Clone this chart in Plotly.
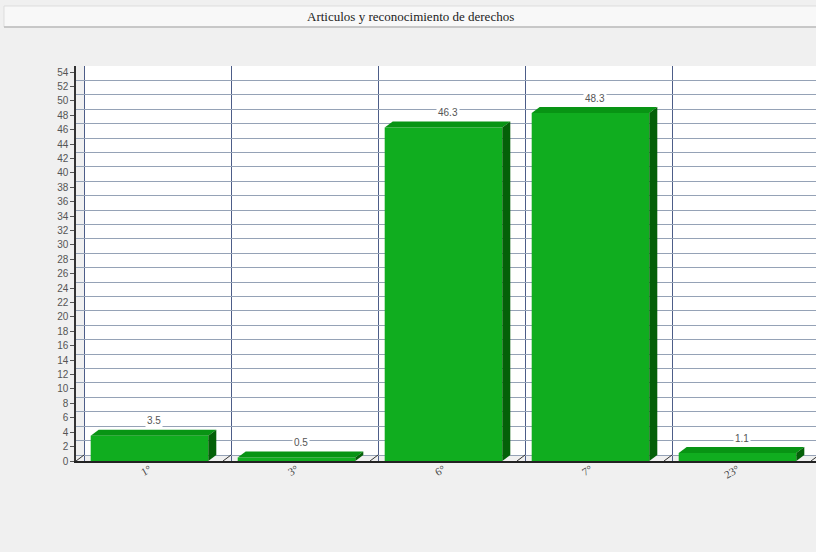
import plotly.graph_objects as go

categories = ["1°", "3°", "6°", "7°", "23°"]
values = [3.5, 0.5, 46.3, 48.3, 1.1]
y_ticks = list(range(0, 56, 2))
title = "Articulos y reconocimiento de derechos"

W, H = 816, 552
# pixel frame of the front plane / back wall
left_px, right_px = 76, 816
top_px, bottom_px = 66, 461
slot_px = 147
unit_px = (461 - 72) / 54.0
dx = 8 / slot_px          # depth offset in x units
dy = 6 / unit_px          # depth offset in y units
bar_w = 0.8

xpos = list(range(len(categories)))
x_hi = -0.5 + (right_px - left_px) / slot_px
y_hi = 54 + dy

fig = go.Figure()

fig.add_trace(go.Bar(
    x=xpos, y=values, width=bar_w,
    marker=dict(color="#10ad1f", line=dict(width=0)),
    hoverinfo="skip", showlegend=False,
))

# 3D faces derived from the values
for i, v in enumerate(values):
    xl, xr = i - bar_w / 2, i + bar_w / 2
    fig.add_trace(go.Scatter(
        x=[xl, xr, xr + dx, xl + dx, xl], y=[v, v, v + dy, v + dy, v],
        fill="toself", fillcolor="#089414", mode="lines",
        line=dict(width=0, color="#089414"), hoverinfo="skip", showlegend=False,
    ))
    fig.add_trace(go.Scatter(
        x=[xr, xr + dx, xr + dx, xr, xr], y=[0, dy, v + dy, v, 0],
        fill="toself", fillcolor="#046008", mode="lines",
        line=dict(width=0, color="#046008"), hoverinfo="skip", showlegend=False,
    ))
    fig.add_annotation(
        x=i + dx / 2, y=v + dy, yshift=9, text=f"{v}", showarrow=False,
        font=dict(family="Liberation Sans", size=10, color="#555"),
        bgcolor="white", borderpad=1,
    )

# floor diagonals at slot boundaries
fx, fy = [], []
for b in [k - 0.5 for k in range(len(categories) + 1)]:
    fx += [b, b + dx, None]
    fy += [0, dy, None]
fig.add_trace(go.Scatter(x=fx, y=fy, mode="lines", line=dict(color="#333", width=1),
                         hoverinfo="skip", showlegend=False))

# back wall
fig.add_shape(type="rect", xref="x2", yref="y2", x0=-0.5, x1=4.6, y0=0, y1=54,
              fillcolor="white", line=dict(width=0), layer="below")

# title bar
fig.add_shape(type="rect", xref="paper", yref="paper", x0=4 / W, x1=1.01,
              y0=1 - 27 / H, y1=1 - 6 / H, fillcolor="#f8f8f8",
              line=dict(color="#dddddd", width=1), layer="below")
fig.add_shape(type="line", xref="paper", yref="paper", x0=4 / W, x1=1,
              y0=1 - 27 / H, y1=1 - 27 / H, line=dict(color="#bdbdbd", width=1.5))
fig.add_annotation(x=410 / W, y=1 - 16 / H, xref="paper", yref="paper",
                   xanchor="center", yanchor="middle",
                   text=title, showarrow=False,
                   font=dict(family="Liberation Serif", size=13, color="#222"))

dom_x = [left_px / W, 1]
dom_y = [1 - bottom_px / H, 1 - top_px / H]

fig.update_layout(
    width=W, height=H,
    margin=dict(l=0, r=0, t=0, b=0, pad=0),
    paper_bgcolor="#f0f0f0", plot_bgcolor="rgba(0,0,0,0)",
    xaxis=dict(domain=dom_x, range=[-0.5, x_hi], tickvals=xpos, ticktext=categories,
               tickangle=-30, showgrid=False, zeroline=False, showline=True,
               linecolor="#222", linewidth=1.5, ticks="", automargin=False,
               ticklabelstandoff=-4,
               tickfont=dict(family="Liberation Serif", size=11, color="#444")),
    yaxis=dict(domain=dom_y, range=[0, y_hi], tickvals=y_ticks, showgrid=False,
               zeroline=False, showline=True, linecolor="#333", linewidth=1.5,
               ticks="outside", ticklen=4, tickcolor="#555", automargin=False,
               tickfont=dict(family="Liberation Sans", size=10, color="#555")),
    xaxis2=dict(overlaying="x", range=[-0.5 - dx, x_hi - dx],
                tickvals=[k - 0.5 for k in range(len(categories) + 1)],
                showticklabels=False, showgrid=True, gridcolor="#4d5d88", gridwidth=1,
                zeroline=False, showline=False, automargin=False),
    yaxis2=dict(overlaying="y", range=[-dy, 54], tickvals=y_ticks,
                showticklabels=False, showgrid=True, gridcolor="#95a2b6", gridwidth=1,
                zeroline=False, showline=False, automargin=False),
    showlegend=False,
)
# attach an invisible trace so the overlay axes are drawn
fig.add_trace(go.Scatter(x=[0], y=[0], xaxis="x2", yaxis="y2", mode="markers",
                         marker=dict(opacity=0), hoverinfo="skip", showlegend=False))

fig.write_html(
    "out.html",
    config={"displayModeBar": False},
    post_script="document.body.style.margin='0';"
                "document.documentElement.style.overflow='hidden';"
                "document.body.style.overflow='hidden';",
)
